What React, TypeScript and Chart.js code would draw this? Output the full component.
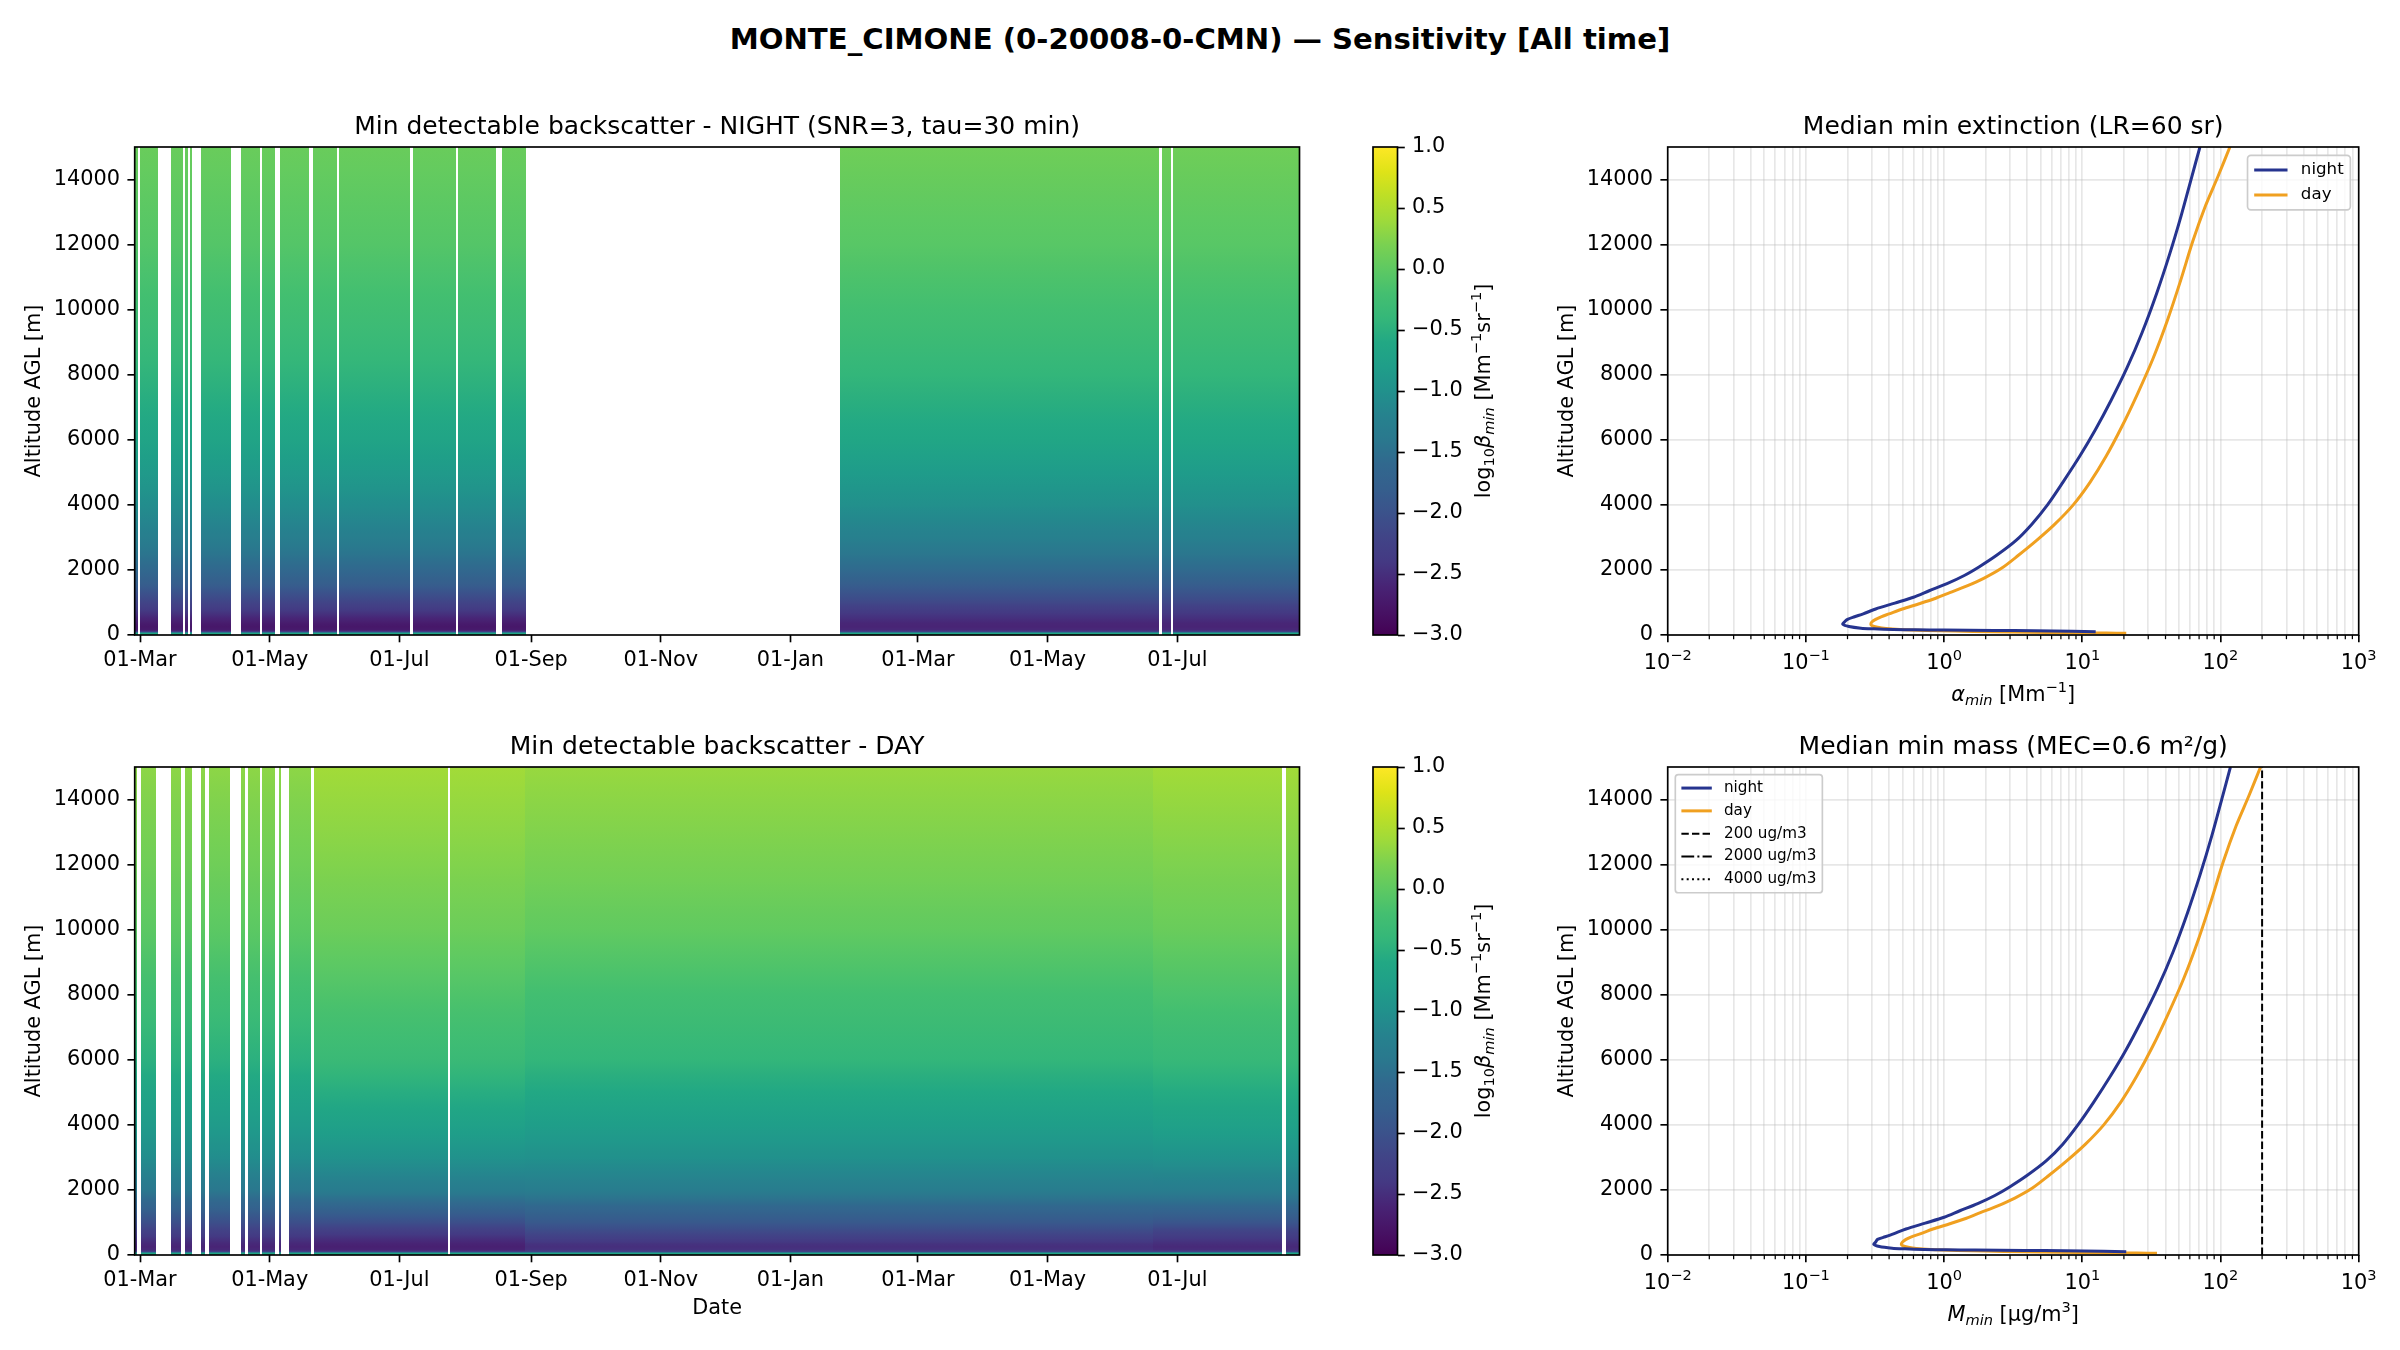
import { useEffect, useRef } from "react";
import { Chart, registerables } from "chart.js";

Chart.register(...registerables);

const FONT = "'DejaVu Sans', 'Liberation Sans', sans-serif";
Chart.defaults.font.family = FONT;
Chart.defaults.color = "#000";

// ---------------- data ----------------

// time axis: days since 01-Mar-2023
const DAY_MIN = -2.5;
const DAY_MAX = 545.5;
const DATE_TICKS = [0, 61, 122, 184, 245, 306, 366, 427, 488];
const DATE_LABELS = ["01-Mar", "01-May", "01-Jul", "01-Sep", "01-Nov", "01-Jan", "01-Mar", "01-May", "01-Jul"];

const ALT_TICKS = [0, 2000, 4000, 6000, 8000, 10000, 12000, 14000];
const ALT_MAX = 15000;

// heatmap altitude levels [m] and log10(beta_min) at each level
const LEVELS = [0, 60, 100, 150, 250, 350, 500, 750, 1000, 1500, 2000, 3000, 4000, 6000, 8000, 10000, 12000, 15000];
const NIGHT_2023 = [-0.45, -0.7, -2.3, -2.7, -2.75, -2.7, -2.6, -2.4, -2.2, -1.85, -1.6, -1.28, -1.05, -0.68, -0.45, -0.25, -0.08, 0.08];
const NIGHT_2024 = [-0.45, -0.7, -2.2, -2.55, -2.6, -2.58, -2.5, -2.35, -2.15, -1.85, -1.58, -1.25, -1.02, -0.65, -0.42, -0.22, -0.05, 0.12];
const DAY_SPRING_2023 = [-0.45, -0.7, -2.2, -2.55, -2.6, -2.55, -2.45, -2.25, -2.05, -1.7, -1.4, -1.05, -0.85, -0.5, -0.25, -0.02, 0.12, 0.3];
const DAY_SUMMER_2023 = [-0.45, -0.7, -2.3, -2.6, -2.65, -2.6, -2.5, -2.3, -2.05, -1.65, -1.32, -0.98, -0.74, -0.34, -0.12, 0.1, 0.24, 0.42];
const DAY_WINTER = [-0.5, -0.75, -2.2, -2.45, -2.5, -2.45, -2.3, -2.1, -1.9, -1.6, -1.3, -1.0, -0.8, -0.42, -0.22, 0.02, 0.18, 0.36];
const DAY_SUMMER_2024 = [-0.45, -0.7, -2.2, -2.5, -2.55, -2.5, -2.4, -2.2, -1.95, -1.6, -1.3, -0.98, -0.75, -0.38, -0.15, 0.08, 0.22, 0.42];

const NIGHT_EDGES = [-2.5, 250, 545.5];
const NIGHT_PROFILES = [NIGHT_2023, NIGHT_2024];
const DAY_EDGES = [-2.5, 82, 181, 476.5, 545.5];
const DAY_PROFILES = [DAY_SPRING_2023, DAY_SUMMER_2023, DAY_WINTER, DAY_SUMMER_2024];

// days with data (everything else is blank)
const NIGHT_SPANS = [
  [-2.5, -1], [0, 8.5], [14.5, 20], [21, 22.5], [23.5, 24.5], [28.5, 43], [47.5, 56.5], [57.5, 63.5],
  [66, 79.5], [81.5, 92.5], [93.5, 127], [128.5, 148.5], [149.5, 167.5], [170.5, 181.5],
  [329.5, 479.5], [481, 485], [486, 545.5],
];
const DAY_SPANS = [
  [-2.5, -1.5], [0.5, 7.5], [14.5, 19.5], [21, 24.5], [28.5, 30.5], [32.5, 42.5], [47.5, 49.5],
  [51, 56.5], [57.5, 63.5], [65.5, 66.5], [70, 80.5], [82, 145], [146, 537.5], [539, 545.5],
];

// median profiles
const NIGHT_ALT = [100, 115, 130, 140, 150, 160, 170, 190, 210, 260, 330, 400, 480, 560, 650, 800, 980, 1160, 1360, 1580, 1830, 2100, 2450, 2900, 3400, 4000, 4700, 5500, 6300, 7200, 8200, 9300, 10500, 11700, 12900, 14000, 15000];
const NIGHT_EXT = [12.5, 8.5, 4.5, 2.3, 1.0, 0.62, 0.43, 0.31, 0.25, 0.205, 0.185, 0.19, 0.2, 0.225, 0.26, 0.32, 0.44, 0.6, 0.78, 1.05, 1.4, 1.8, 2.4, 3.3, 4.3, 5.6, 7.25, 9.6, 12.4, 16.1, 21, 27.1, 34.5, 42.8, 52, 61.2, 71];
const NIGHT_MASS = [20.8, 14.2, 7.5, 3.8, 1.67, 1.03, 0.72, 0.52, 0.42, 0.34, 0.31, 0.32, 0.33, 0.375, 0.43, 0.53, 0.73, 1.0, 1.3, 1.75, 2.33, 3.0, 4.0, 5.5, 7.2, 9.3, 12.1, 16, 20.7, 26.8, 35, 45.2, 57.5, 71.3, 86.7, 102, 118];
const DAY_ALT = [50, 60, 70, 85, 100, 120, 140, 170, 200, 240, 290, 330, 400, 480, 560, 650, 800, 960, 1130, 1300, 1500, 1750, 2050, 2450, 2900, 3400, 4000, 4700, 5500, 6400, 7400, 8500, 9700, 10900, 12100, 13200, 14100, 15000];
const DAY_EXT = [20.8, 15, 8, 4, 2.2, 1.2, 0.75, 0.48, 0.38, 0.33, 0.3, 0.295, 0.3, 0.32, 0.35, 0.4, 0.5, 0.66, 0.87, 1.1, 1.45, 1.95, 2.6, 3.45, 4.65, 6.3, 8.6, 11.4, 14.9, 19.3, 25, 32.5, 41.5, 51.5, 63, 78, 96, 117];
const DAY_MASS = [34.7, 25, 13.3, 6.7, 3.7, 2.0, 1.25, 0.8, 0.63, 0.55, 0.5, 0.49, 0.5, 0.53, 0.58, 0.67, 0.83, 1.1, 1.45, 1.83, 2.42, 3.25, 4.33, 5.75, 7.75, 10.5, 14.3, 19, 24.8, 32.2, 41.7, 54.2, 69.2, 85.8, 105, 130, 160, 195];

const MASS_LIMITS = [200, 2000, 4000];
const MASS_LIMIT_LABELS = ["200 ug/m3", "2000 ug/m3", "4000 ug/m3"];

const LOG_MIN = 0.01;
const LOG_MAX = 1000;
const DECADES = [0.01, 0.1, 1, 10, 100];
const MANTISSAS = [1, 2, 3, 4, 5, 6, 7, 8, 9];
const LOG_EXPONENTS = ["\u22122", "\u22121", "0", "1", "2", "3"];

const CBAR_MIN = -3;
const CBAR_MAX = 1;
const CBAR_TICKS = [-3, -2.5, -2, -1.5, -1, -0.5, 0, 0.5, 1];

// ---------------- style ----------------

const PT = 150 / 72;
const SPINE_W = 0.8 * PT;
const TICK_LEN = 3.5 * PT;
const TICK_PAD = 3.5 * PT;
const MINOR_LEN = 2 * PT;
const MINOR_W = 0.6 * PT;
const FS_TICK = 10 * PT;
const FS_TITLE = 12 * PT;
const FS_SUPTITLE = 14 * PT;
const TITLE_GAP = 4.6;
const TITLE_BOX = FS_TITLE * 1.2 + TITLE_GAP;
const GRID_COLOR = "rgba(176,176,176,0.3)";
const NIGHT_COLOR = "#26348f";
const DAY_COLOR = "#f0a020";
const LINE_W = 3;
const REF_W = 2;
const REF_DASHES = [[7.4, 3.2], [12.8, 3.2, 2, 3.2], [2, 3.3]];
const X_LABEL_PAD = 6;

const AREA_TOP = 147;
const AREA_BOTTOM = 635;
const ROWS = [{ top: 0, height: 720 }, { top: 620, height: 730 }];
const HEAT_BOX = { canvasLeft: 0, canvasWidth: 1340, left: 134.7, right: 1299.5 };
const CBAR_BOX = { canvasLeft: 1340, canvasWidth: 220, left: 1373, right: 1397.5 };
const PROF_BOX = { canvasLeft: 1540, canvasWidth: 860, left: 1667.7, right: 2358.7 };

const VIRIDIS = [
  "#440154", "#471365", "#482475", "#443983", "#414487", "#3b528b", "#355f8d", "#31688e", "#2a788e", "#26828e",
  "#21918c", "#1f9e89", "#22a884", "#35b779", "#44bf70", "#5ec962", "#7ad151", "#9fda3a", "#bddf26", "#dfe318", "#fde725",
];
const VIRIDIS_RGB = VIRIDIS.map((h) => [1, 3, 5].map((i) => parseInt(h.slice(i, i + 2), 16)));

function viridis(v: number) {
  const t = Math.min(1, Math.max(0, (v - CBAR_MIN) / (CBAR_MAX - CBAR_MIN))) * (VIRIDIS.length - 1);
  const i = Math.min(VIRIDIS.length - 2, Math.floor(t));
  const f = t - i;
  const a = VIRIDIS_RGB[i];
  const b = VIRIDIS_RGB[i + 1];
  const c = a.map((x, k) => Math.round(x + (b[k] - x) * f));
  return `rgb(${c[0]},${c[1]},${c[2]})`;
}

const isMajor = (v: number) => {
  const e = Math.log10(v);
  return Math.abs(e - Math.round(e)) < 1e-6;
};

const LOG_TICKS = [...DECADES.flatMap((d) => MANTISSAS.map((m) => m * d)), LOG_MAX];

type Seg = { t: string; it?: boolean; sub?: boolean; sup?: boolean };

function drawRich(ctx: CanvasRenderingContext2D, segs: Seg[], cx: number, cy: number, size: number, rotation = 0) {
  ctx.save();
  ctx.translate(cx, cy);
  ctx.rotate(rotation);
  const font = (s: Seg) => `${s.it ? "italic " : ""}${s.sub || s.sup ? size * 0.7 : size}px ${FONT}`;
  const widths = segs.map((s) => {
    ctx.font = font(s);
    return ctx.measureText(s.t).width;
  });
  let x = -widths.reduce((a, b) => a + b, 0) / 2;
  ctx.fillStyle = "#000";
  ctx.textAlign = "left";
  ctx.textBaseline = "alphabetic";
  segs.forEach((s, i) => {
    ctx.font = font(s);
    const dy = s.sub ? size * 0.22 : s.sup ? -size * 0.42 : 0;
    ctx.fillText(s.t, x, size * 0.36 + dy);
    x += widths[i];
  });
  ctx.restore();
}

// ---------------- plugins ----------------

const framePlugin = {
  id: "frame",
  afterDraw(chart: any) {
    const { ctx, chartArea: a } = chart;
    ctx.save();
    ctx.strokeStyle = "#000";
    ctx.lineWidth = SPINE_W;
    ctx.strokeRect(a.left, a.top, a.right - a.left, a.bottom - a.top);
    ctx.restore();
  },
};

// minor ticks and mathtext-like decade labels of the log axis
const logAxisPlugin = {
  id: "logAxis",
  afterDraw(chart: any) {
    const { ctx, chartArea: a, scales } = chart;
    ctx.save();
    ctx.strokeStyle = "#000";
    ctx.lineWidth = MINOR_W;
    LOG_TICKS.forEach((v) => {
      const px = scales.x.getPixelForValue(v);
      if (isMajor(v)) {
        const e = Math.round(Math.log10(v));
        drawRich(ctx, [{ t: "10" }, { t: LOG_EXPONENTS[e + 2], sup: true }], px, a.bottom + 26.5, FS_TICK);
        return;
      }
      ctx.beginPath();
      ctx.moveTo(px, a.bottom);
      ctx.lineTo(px, a.bottom + MINOR_LEN);
      ctx.stroke();
    });
    ctx.restore();
  },
};

function makeHeatmapPlugin(spans: number[][], edges: number[], profiles: number[][]) {
  return {
    id: "heatmap",
    beforeDatasetsDraw(chart: any) {
      const { ctx, chartArea: a, scales } = chart;
      const { x, y } = scales;
      const top = LEVELS[LEVELS.length - 1];
      ctx.save();
      ctx.beginPath();
      ctx.rect(a.left, a.top, a.right - a.left, a.bottom - a.top);
      ctx.clip();
      profiles.forEach((prof, k) => {
        const g = ctx.createLinearGradient(0, y.getPixelForValue(LEVELS[0]), 0, y.getPixelForValue(top));
        for (let i = 0; i < LEVELS.length - 1; i++) {
          for (let s = 0; s < 4; s++) {
            const f = s / 4;
            const alt = LEVELS[i] + f * (LEVELS[i + 1] - LEVELS[i]);
            g.addColorStop(alt / top, viridis(prof[i] + f * (prof[i + 1] - prof[i])));
          }
        }
        g.addColorStop(1, viridis(prof[prof.length - 1]));
        ctx.fillStyle = g;
        spans.forEach(([s0, s1]) => {
          const lo = Math.max(s0, edges[k]);
          const hi = Math.min(s1, edges[k + 1]);
          if (hi <= lo) return;
          const p0 = Math.round(x.getPixelForValue(lo));
          const p1 = Math.round(x.getPixelForValue(hi));
          ctx.fillRect(p0, a.top, Math.max(1, p1 - p0), a.bottom - a.top);
        });
      });
      ctx.restore();
    },
  };
}

const colorbarPlugin = {
  id: "colorbar",
  beforeDatasetsDraw(chart: any) {
    const { ctx, chartArea: a, scales } = chart;
    const g = ctx.createLinearGradient(0, scales.y.getPixelForValue(CBAR_MIN), 0, scales.y.getPixelForValue(CBAR_MAX));
    VIRIDIS.forEach((c, i) => g.addColorStop(i / (VIRIDIS.length - 1), c));
    ctx.save();
    ctx.fillStyle = g;
    ctx.fillRect(a.left, a.top, a.right - a.left, a.bottom - a.top);
    ctx.restore();
  },
};

function makeRichLabel(segs: Seg[], where: (chart: any) => { x: number; y: number }, rotation = 0) {
  return {
    id: "richLabel",
    afterDraw(chart: any) {
      const p = where(chart);
      drawRich(chart.ctx, segs, p.x, p.y, FS_TICK, rotation);
    },
  };
}

type LegendItem = { label: string; color: string; width: number; dash: number[] };

function makeLegend(items: LegendItem[], corner: "left" | "right", fs: number) {
  return {
    id: "boxLegend",
    afterDraw(chart: any) {
      const { ctx, chartArea: a } = chart;
      ctx.save();
      ctx.font = `${fs}px ${FONT}`;
      const textW = Math.max(...items.map((it) => ctx.measureText(it.label).width));
      const pad = 0.4 * fs;
      const handle = 2 * fs;
      const gap = 0.8 * fs;
      const rowH = 1.5 * fs;
      const w = pad + handle + gap + textW + pad;
      const h = items.length * rowH + 0.27 * fs;
      const margin = 0.5 * fs;
      const x0 = corner === "right" ? a.right - margin - w : a.left + margin;
      const y0 = a.top + margin;
      ctx.beginPath();
      ctx.roundRect(x0, y0, w, h, 0.2 * fs);
      ctx.fillStyle = "rgba(255,255,255,0.8)";
      ctx.fill();
      ctx.strokeStyle = "#cccccc";
      ctx.lineWidth = 0.8 * PT;
      ctx.stroke();
      items.forEach((it, i) => {
        const cy = y0 + 0.135 * fs + rowH * (i + 0.5);
        ctx.beginPath();
        ctx.setLineDash(it.dash);
        ctx.strokeStyle = it.color;
        ctx.lineWidth = it.width;
        ctx.moveTo(x0 + pad, cy);
        ctx.lineTo(x0 + pad + handle, cy);
        ctx.stroke();
        ctx.setLineDash([]);
        ctx.fillStyle = "#000";
        ctx.textAlign = "left";
        ctx.textBaseline = "middle";
        ctx.fillText(it.label, x0 + pad + handle + gap, cy);
      });
      ctx.restore();
    },
  };
}

// ---------------- shared option pieces ----------------

const base = {
  animation: false,
  responsive: false,
  devicePixelRatio: 1,
  events: [],
};

const titleOpts = (text: string) => ({
  display: true,
  text,
  fullSize: false,
  color: "#000",
  font: { size: FS_TITLE, weight: "normal" },
  padding: { top: 0, bottom: TITLE_GAP },
});

const altAxis = (width: number, titlePad: number, grid: boolean) => ({
  type: "linear",
  min: 0,
  max: ALT_MAX,
  afterBuildTicks: (s: any) => {
    s.ticks = ALT_TICKS.map((v) => ({ value: v }));
  },
  afterFit: (s: any) => {
    s.width = width;
  },
  ticks: { padding: TICK_PAD, font: { size: FS_TICK }, color: "#000", callback: (v: any) => String(v) },
  grid: {
    drawOnChartArea: grid,
    color: GRID_COLOR,
    lineWidth: SPINE_W,
    tickLength: TICK_LEN,
    tickWidth: SPINE_W,
    tickColor: "#000",
  },
  border: { display: false },
  title: {
    display: true,
    text: "Altitude AGL [m]",
    color: "#000",
    font: { size: FS_TICK },
    padding: { top: titlePad, bottom: 0 },
  },
});

function heatmapConfig(row: number, title: string, spans: number[][], edges: number[], profiles: number[][], showDate: boolean) {
  const { height } = ROWS[row];
  const xH = showDate ? 80 : 50;
  return {
    type: "scatter",
    data: { datasets: [] },
    options: {
      ...base,
      layout: {
        padding: {
          left: 0,
          right: HEAT_BOX.canvasLeft + HEAT_BOX.canvasWidth - HEAT_BOX.right,
          top: AREA_TOP - TITLE_BOX,
          bottom: height - AREA_BOTTOM - xH,
        },
      },
      plugins: { legend: { display: false }, tooltip: { enabled: false }, title: titleOpts(title) },
      scales: {
        x: {
          type: "linear",
          min: DAY_MIN,
          max: DAY_MAX,
          afterBuildTicks: (s: any) => {
            s.ticks = DATE_TICKS.map((v) => ({ value: v }));
          },
          afterFit: (s: any) => {
            s.height = xH;
          },
          ticks: {
            autoSkip: false,
            maxRotation: 0,
            padding: X_LABEL_PAD,
            font: { size: FS_TICK },
            color: "#000",
            callback: (_v: any, i: number) => DATE_LABELS[i] ?? "",
          },
          grid: { drawOnChartArea: false, tickLength: TICK_LEN, tickWidth: SPINE_W, tickColor: "#000" },
          border: { display: false },
          title: {
            display: showDate,
            text: "Date",
            color: "#000",
            font: { size: FS_TICK },
            padding: { top: 0, bottom: 14 },
          },
        },
        y: altAxis(HEAT_BOX.left - HEAT_BOX.canvasLeft, 22, false),
      },
    },
    plugins: [makeHeatmapPlugin(spans, edges, profiles), framePlugin],
  };
}

function colorbarConfig(row: number) {
  const { height } = ROWS[row];
  const yW = 100;
  const areaLeft = CBAR_BOX.left - CBAR_BOX.canvasLeft;
  const areaRight = CBAR_BOX.right - CBAR_BOX.canvasLeft;
  const labelSegs: Seg[] = [
    { t: "log" },
    { t: "10", sub: true },
    { t: "\u03B2", it: true },
    { t: "min", it: true, sub: true },
    { t: " [Mm" },
    { t: "\u22121", sup: true },
    { t: "sr" },
    { t: "\u22121", sup: true },
    { t: "]" },
  ];
  return {
    type: "scatter",
    data: { datasets: [] },
    options: {
      ...base,
      layout: {
        padding: { left: areaLeft, right: CBAR_BOX.canvasWidth - areaRight - yW, top: AREA_TOP, bottom: height - AREA_BOTTOM },
      },
      plugins: { legend: { display: false }, tooltip: { enabled: false } },
      scales: {
        x: { display: false, min: 0, max: 1 },
        y: {
          type: "linear",
          position: "right",
          min: CBAR_MIN,
          max: CBAR_MAX,
          afterBuildTicks: (s: any) => {
            s.ticks = CBAR_TICKS.map((v) => ({ value: v }));
          },
          afterFit: (s: any) => {
            s.width = yW;
          },
          ticks: {
            padding: TICK_PAD,
            font: { size: FS_TICK },
            color: "#000",
            callback: (v: any) => Number(v).toFixed(1).replace("-", "\u2212"),
          },
          grid: { drawOnChartArea: false, tickLength: TICK_LEN, tickWidth: SPINE_W, tickColor: "#000" },
          border: { display: false },
        },
      },
    },
    plugins: [
      colorbarPlugin,
      framePlugin,
      makeRichLabel(labelSegs, (c) => ({ x: 1482 - CBAR_BOX.canvasLeft, y: (c.chartArea.top + c.chartArea.bottom) / 2 }), -Math.PI / 2),
    ],
  };
}

const pts = (xs: number[], ys: number[]) => xs.map((x, i) => ({ x, y: ys[i] }));

function profileConfig(row: number, title: string, datasets: any[], legend: any, xSegs: Seg[]) {
  const { height } = ROWS[row];
  const xH = 75;
  return {
    type: "scatter",
    data: { datasets },
    options: {
      ...base,
      layout: {
        padding: {
          left: 0,
          right: PROF_BOX.canvasLeft + PROF_BOX.canvasWidth - PROF_BOX.right,
          top: AREA_TOP - TITLE_BOX,
          bottom: height - AREA_BOTTOM - xH,
        },
      },
      plugins: { legend: { display: false }, tooltip: { enabled: false }, title: titleOpts(title) },
      scales: {
        x: {
          type: "logarithmic",
          min: LOG_MIN,
          max: LOG_MAX,
          afterBuildTicks: (s: any) => {
            s.ticks = LOG_TICKS.map((v) => ({ value: v }));
          },
          afterFit: (s: any) => {
            s.height = xH;
          },
          ticks: {
            autoSkip: false,
            maxRotation: 0,
            padding: X_LABEL_PAD,
            font: { size: FS_TICK },
            color: "#000",
            callback: () => "",
          },
          grid: {
            color: GRID_COLOR,
            lineWidth: SPINE_W,
            tickLength: TICK_LEN,
            tickWidth: SPINE_W,
            tickColor: (c: any) => (c.tick && isMajor(c.tick.value) ? "#000" : "rgba(0,0,0,0)"),
          },
          border: { display: false },
        },
        y: altAxis(PROF_BOX.left - PROF_BOX.canvasLeft, 15.5, true),
      },
    },
    plugins: [
      logAxisPlugin,
      framePlugin,
      legend,
      makeRichLabel(xSegs, (c) => ({ x: (c.chartArea.left + c.chartArea.right) / 2, y: AREA_BOTTOM + 58 })),
    ],
  };
}

const lineSet = (label: string, xs: number[], ys: number[], color: string) => ({
  label,
  data: pts(xs, ys),
  showLine: true,
  pointRadius: 0,
  borderColor: color,
  backgroundColor: color,
  borderWidth: LINE_W,
  tension: 0.3,
  fill: false,
});

const extConfig = () =>
  profileConfig(
    0,
    "Median min extinction (LR=60 sr)",
    [lineSet("night", NIGHT_EXT, NIGHT_ALT, NIGHT_COLOR), lineSet("day", DAY_EXT, DAY_ALT, DAY_COLOR)],
    makeLegend(
      [
        { label: "night", color: NIGHT_COLOR, width: LINE_W, dash: [] },
        { label: "day", color: DAY_COLOR, width: LINE_W, dash: [] },
      ],
      "right",
      8 * PT
    ),
    [{ t: "\u03B1", it: true }, { t: "min", it: true, sub: true }, { t: " [Mm" }, { t: "\u22121", sup: true }, { t: "]" }]
  );

const massConfig = () =>
  profileConfig(
    1,
    "Median min mass (MEC=0.6 m\u00B2/g)",
    [
      lineSet("night", NIGHT_MASS, NIGHT_ALT, NIGHT_COLOR),
      lineSet("day", DAY_MASS, DAY_ALT, DAY_COLOR),
      ...MASS_LIMITS.map((m, i) => ({
        label: MASS_LIMIT_LABELS[i],
        data: [
          { x: m, y: 0 },
          { x: m, y: ALT_MAX },
        ],
        showLine: true,
        pointRadius: 0,
        borderColor: "#000",
        borderWidth: REF_W,
        borderDash: REF_DASHES[i],
        fill: false,
      })),
    ],
    makeLegend(
      [
        { label: "night", color: NIGHT_COLOR, width: LINE_W, dash: [] },
        { label: "day", color: DAY_COLOR, width: LINE_W, dash: [] },
        ...MASS_LIMIT_LABELS.map((l, i) => ({ label: l, color: "#000", width: REF_W, dash: REF_DASHES[i] })),
      ],
      "left",
      7.3 * PT
    ),
    [{ t: "M", it: true }, { t: "min", it: true, sub: true }, { t: " [\u03BCg/m" }, { t: "3", sup: true }, { t: "]" }]
  );

// ---------------- components ----------------

type Box = { canvasLeft: number; canvasWidth: number };

function ChartCanvas({ box, row, make }: { box: Box; row: number; make: () => any }) {
  const ref = useRef<HTMLCanvasElement>(null);
  const { top, height } = ROWS[row];
  useEffect(() => {
    if (!ref.current) return;
    const chart = new Chart(ref.current, make());
    return () => chart.destroy();
  }, []);
  return (
    <canvas
      ref={ref}
      width={box.canvasWidth}
      height={height}
      style={{ position: "absolute", left: box.canvasLeft, top, width: box.canvasWidth, height }}
    />
  );
}

export default function App() {
  return (
    <div style={{ position: "absolute", left: 0, top: 0, width: 2400, height: 1350, background: "#fff", overflow: "hidden" }}>
      <div
        style={{
          position: "absolute",
          left: 0,
          top: 25.3,
          width: 2400,
          textAlign: "center",
          fontFamily: FONT,
          fontWeight: "bold",
          fontSize: FS_SUPTITLE,
          lineHeight: 1,
          color: "#000",
          whiteSpace: "nowrap",
        }}
      >
        MONTE_CIMONE (0-20008-0-CMN) — Sensitivity [All time]
      </div>
      <ChartCanvas
        box={HEAT_BOX}
        row={0}
        make={() =>
          heatmapConfig(0, "Min detectable backscatter - NIGHT (SNR=3, tau=30 min)", NIGHT_SPANS, NIGHT_EDGES, NIGHT_PROFILES, false)
        }
      />
      <ChartCanvas box={CBAR_BOX} row={0} make={() => colorbarConfig(0)} />
      <ChartCanvas box={PROF_BOX} row={0} make={extConfig} />
      <ChartCanvas
        box={HEAT_BOX}
        row={1}
        make={() => heatmapConfig(1, "Min detectable backscatter - DAY", DAY_SPANS, DAY_EDGES, DAY_PROFILES, true)}
      />
      <ChartCanvas box={CBAR_BOX} row={1} make={() => colorbarConfig(1)} />
      <ChartCanvas box={PROF_BOX} row={1} make={massConfig} />
    </div>
  );
}
